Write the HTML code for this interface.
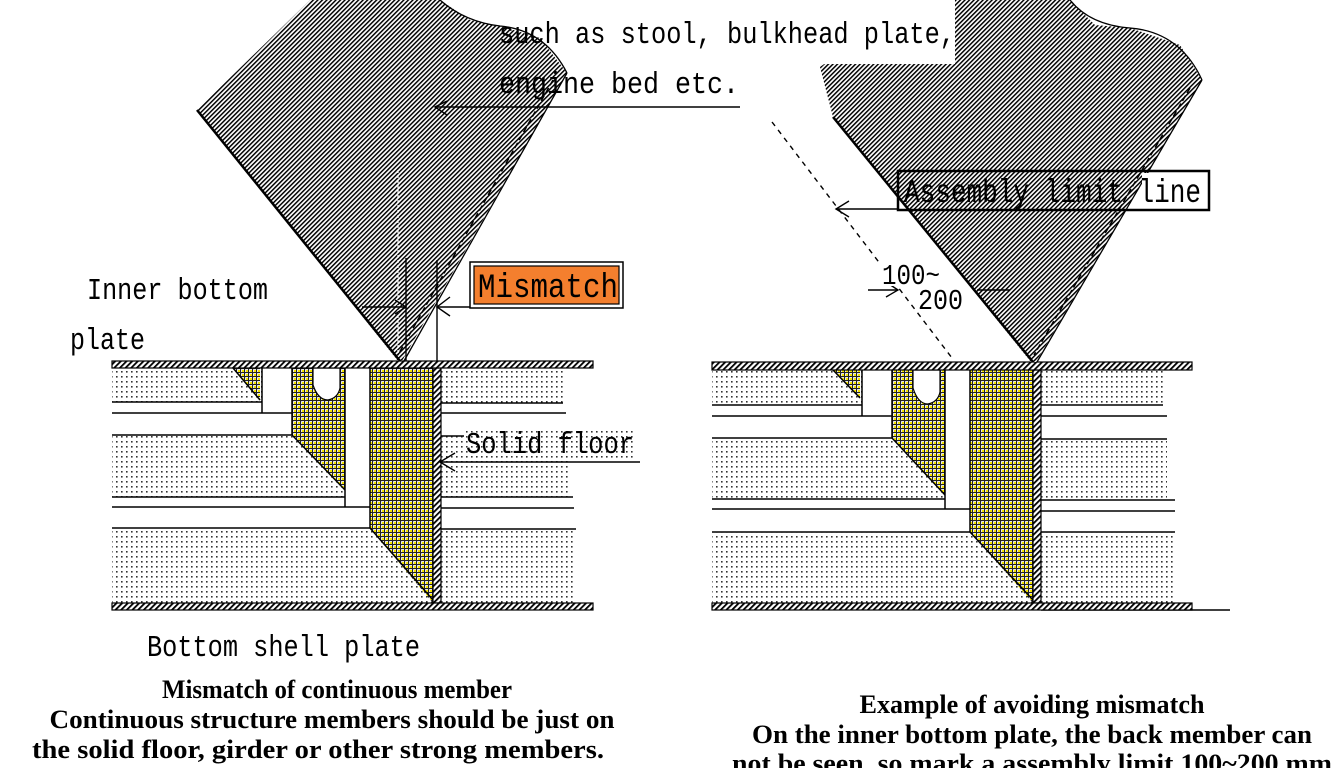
<!DOCTYPE html>
<html><head><meta charset="utf-8"><style>
html,body{margin:0;padding:0;background:#fff;}
svg{display:block;}
.m{font-family:"Liberation Mono",monospace;fill:#000;}
.s{font-family:"Liberation Serif",serif;fill:#000;font-size:26px;font-weight:bold;}
</style></head><body>
<svg width="1342" height="768" viewBox="0 0 1342 768" xmlns="http://www.w3.org/2000/svg">
<defs>
<pattern id="h" width="3.2" height="3.2" patternUnits="userSpaceOnUse" patternTransform="rotate(45)">
<rect width="3.2" height="3.2" fill="#fff"/><rect width="1.5" height="3.2" fill="#000"/></pattern>
<pattern id="hp" width="4" height="4" patternUnits="userSpaceOnUse" patternTransform="rotate(45)">
<rect width="4" height="4" fill="#fff"/><rect width="1.8" height="4" fill="#000"/></pattern>
<pattern id="d" width="5" height="5" patternUnits="userSpaceOnUse">
<rect width="5" height="5" fill="#fff"/><rect x="1" y="1" width="1.6" height="1.6" fill="#333"/></pattern>
<pattern id="y" width="4" height="4" patternUnits="userSpaceOnUse">
<rect width="4" height="4" fill="#fff"/><rect width="4" height="1.1" fill="#222"/><rect width="1.1" height="4" fill="#222"/><rect x="2" y="2" width="2" height="2" fill="#f5e500"/></pattern>
</defs>

<g>
<rect x="112" y="368" width="150" height="34" fill="url(#d)"/>
<rect x="112" y="435" width="233" height="62" fill="url(#d)"/>
<rect x="112" y="528" width="321" height="75" fill="url(#d)"/>
<rect x="441" y="368" width="125" height="35" fill="url(#d)"/>
<rect x="441" y="436" width="130" height="61" fill="url(#d)"/>
<rect x="441" y="529" width="135" height="74" fill="url(#d)"/>
<rect x="313" y="368" width="28" height="30" fill="url(#d)"/>
<polygon points="370,368 433,368 433,603 370,528" fill="url(#y)"/>
<polygon points="292,368 345,368 345,490 292,435" fill="url(#y)"/>
<polygon points="233,368 260,368 260,400" fill="url(#y)"/>
<path d="M313,368 L313,385 Q318,400 328,400 Q338,398 340,388 L340,368 Z" fill="#fff" stroke="#000" stroke-width="1.2"/>
<g stroke="#000" stroke-width="1.5" fill="none">
<line x1="112" y1="402" x2="262" y2="402"/><line x1="112" y1="413" x2="292" y2="413"/>
<line x1="112" y1="435" x2="292" y2="435"/><line x1="112" y1="497" x2="345" y2="497"/>
<line x1="112" y1="507" x2="370" y2="507"/><line x1="112" y1="528" x2="370" y2="528"/>
<line x1="441" y1="403" x2="563" y2="403"/><line x1="441" y1="413" x2="566" y2="413"/>
<line x1="441" y1="436" x2="571" y2="436"/><line x1="441" y1="497" x2="573" y2="497"/>
<line x1="441" y1="508" x2="574" y2="508"/><line x1="441" y1="529" x2="576" y2="529"/>
<line x1="262" y1="368" x2="262" y2="413"/><line x1="292" y1="368" x2="292" y2="435"/>
<line x1="345" y1="368" x2="345" y2="507"/><line x1="370" y1="368" x2="370" y2="528"/>
<line x1="292" y1="435" x2="345" y2="490"/><line x1="370" y1="528" x2="433" y2="600"/>
<line x1="233" y1="368" x2="260" y2="400"/>
</g>
<rect x="433" y="368" width="8" height="235" fill="url(#hp)" stroke="#000" stroke-width="1.2"/>
<rect x="112" y="361" width="481" height="7" fill="url(#hp)" stroke="#000" stroke-width="1.2"/>
<rect x="112" y="603" width="481" height="7" fill="url(#hp)" stroke="#000" stroke-width="1.2"/>
<polygon points="197,110 310,0 440,0 470,20 500,26 540,38 567,73 402,361 398,361" fill="url(#h)"/>
<line x1="197" y1="110" x2="400" y2="361" stroke="#000" stroke-width="2.5"/>
<line x1="567" y1="73" x2="404" y2="361" stroke="#000" stroke-width="1.3"/>
<line x1="553" y1="80" x2="398" y2="355" stroke="#000" stroke-width="1.5" stroke-dasharray="6,3"/>
<path d="M440,0 Q465,22 500,26 Q545,30 567,73" fill="none" stroke="#000" stroke-width="1.3"/>
<line x1="398" y1="170" x2="398" y2="355" stroke="#fff" stroke-width="1.2" stroke-dasharray="3,2"/>
</g>

<g>
<rect x="712" y="370" width="150" height="35" fill="url(#d)"/>
<rect x="712" y="438" width="233" height="61" fill="url(#d)"/>
<rect x="712" y="532" width="321" height="71" fill="url(#d)"/>
<rect x="1041" y="370" width="122" height="35" fill="url(#d)"/>
<rect x="1041" y="439" width="126" height="60" fill="url(#d)"/>
<rect x="1041" y="532" width="132" height="71" fill="url(#d)"/>
<rect x="913" y="370" width="28" height="30" fill="url(#d)"/>
<polygon points="970,370 1033,370 1033,603 970,532" fill="url(#y)"/>
<polygon points="892,370 945,370 945,495 892,438" fill="url(#y)"/>
<polygon points="833,370 860,370 860,398" fill="url(#y)"/>
<path d="M913,370 L913,388 Q918,404 928,404 Q938,402 940,392 L940,370 Z" fill="#fff" stroke="#000" stroke-width="1.2"/>
<g stroke="#000" stroke-width="1.5" fill="none">
<line x1="712" y1="405" x2="862" y2="405"/><line x1="712" y1="416" x2="892" y2="416"/>
<line x1="712" y1="438" x2="892" y2="438"/><line x1="712" y1="499" x2="945" y2="499"/>
<line x1="712" y1="509" x2="970" y2="509"/><line x1="712" y1="532" x2="970" y2="532"/>
<line x1="1041" y1="405" x2="1163" y2="405"/><line x1="1041" y1="416" x2="1167" y2="416"/>
<line x1="1041" y1="439" x2="1167" y2="439"/><line x1="1041" y1="500" x2="1175" y2="500"/>
<line x1="1041" y1="511" x2="1175" y2="511"/><line x1="1041" y1="532" x2="1175" y2="532"/>
<line x1="862" y1="370" x2="862" y2="416"/><line x1="892" y1="370" x2="892" y2="438"/>
<line x1="945" y1="370" x2="945" y2="509"/><line x1="970" y1="370" x2="970" y2="532"/>
<line x1="892" y1="438" x2="945" y2="495"/><line x1="970" y1="532" x2="1033" y2="600"/>
<line x1="833" y1="370" x2="860" y2="398"/>
<line x1="1041" y1="610" x2="1230" y2="610"/>
</g>
<rect x="1033" y="370" width="8" height="233" fill="url(#hp)" stroke="#000" stroke-width="1.2"/>
<rect x="712" y="362" width="480" height="8" fill="url(#hp)" stroke="#000" stroke-width="1.2"/>
<rect x="712" y="603" width="480" height="7" fill="url(#hp)" stroke="#000" stroke-width="1.2"/>
<polygon points="833,117 820,67 900,10 920,0 1070,0 1095,25 1130,28 1180,45 1202,80 1036,362 1031,362" fill="url(#h)"/>
<line x1="833" y1="117" x2="1033" y2="362" stroke="#000" stroke-width="2.5"/>
<line x1="1202" y1="80" x2="1037" y2="362" stroke="#000" stroke-width="1.3"/>
<line x1="1190" y1="88" x2="1034" y2="355" stroke="#000" stroke-width="1.5" stroke-dasharray="6,3"/>
<path d="M1070,0 Q1090,25 1130,28 Q1180,32 1202,80" fill="none" stroke="#000" stroke-width="1.3"/>
</g>
<rect x="700" y="0" width="255" height="64" fill="#fff"/>
<rect x="740" y="64" width="20" height="40" fill="#fff"/>
<text class="m" x="499" y="43" font-size="31" textLength="456" lengthAdjust="spacingAndGlyphs">such as stool, bulkhead plate,</text>
<text class="m" x="499" y="93" font-size="31" textLength="240" lengthAdjust="spacingAndGlyphs">engine bed etc.</text>

<g stroke="#000" stroke-width="1.4" fill="none">
<line x1="435" y1="107" x2="740" y2="107"/><polyline points="447,101 435,107 447,115"/>
<line x1="406" y1="258" x2="406" y2="361"/><line x1="437" y1="260" x2="437" y2="361"/>
<line x1="362" y1="307" x2="406" y2="307"/><polyline points="395,300 406,307 395,314"/>
<line x1="437" y1="307" x2="470" y2="307"/><polyline points="450,297 437,307 450,316"/>
<line x1="440" y1="462" x2="640" y2="462"/><polyline points="455,453 440,462 455,471"/>
<line x1="772" y1="122" x2="952" y2="358" stroke-dasharray="5,5"/>
<line x1="836" y1="209" x2="898" y2="209"/><polyline points="849,201 836,209 849,217"/>
<line x1="868" y1="290" x2="898" y2="290"/><polyline points="886,282 898,290 886,297"/>
<line x1="977" y1="290" x2="1010" y2="290"/>
</g>
<rect x="470" y="262" width="153" height="46" fill="#fff" stroke="#000" stroke-width="1.5"/>
<rect x="474" y="266" width="145" height="38" fill="#f47f2e" stroke="#000" stroke-width="1.2"/>
<text class="m" x="478" y="297" font-size="34" textLength="140" lengthAdjust="spacingAndGlyphs">Mismatch</text>
<rect x="464" y="428" width="170" height="30" fill="url(#d)"/>
<text class="m" x="466" y="453" font-size="31" textLength="168" lengthAdjust="spacingAndGlyphs">Solid floor</text>
<text class="m" x="87" y="299" font-size="31" textLength="181" lengthAdjust="spacingAndGlyphs">Inner bottom</text>
<text class="m" x="70" y="349" font-size="31" textLength="75" lengthAdjust="spacingAndGlyphs">plate</text>
<text class="m" x="147" y="656" font-size="31" textLength="273" lengthAdjust="spacingAndGlyphs">Bottom shell plate</text>

<rect x="898" y="171" width="311" height="39" fill="none" stroke="#000" stroke-width="2.5"/>
<rect x="1142" y="173" width="65" height="35" fill="#fff"/>
<text class="m" x="904" y="202" font-size="33" textLength="297" lengthAdjust="spacingAndGlyphs">Assembly limit line</text>
<rect x="880" y="260" width="60" height="26" fill="#fff"/>
<text class="m" x="882" y="284" font-size="29" textLength="58" lengthAdjust="spacingAndGlyphs">100~</text>
<text class="m" x="918" y="309" font-size="29" textLength="45" lengthAdjust="spacingAndGlyphs">200</text>

<text class="s" x="337" y="698" text-anchor="middle" textLength="350" lengthAdjust="spacingAndGlyphs">Mismatch of continuous member</text>
<text class="s" x="332" y="728" text-anchor="middle" textLength="565" lengthAdjust="spacingAndGlyphs">Continuous structure members should be just on</text>
<text class="s" x="318" y="758" text-anchor="middle" textLength="572" lengthAdjust="spacingAndGlyphs">the solid floor, girder or other strong members.</text>
<text class="s" x="1032" y="713" text-anchor="middle" textLength="345" lengthAdjust="spacingAndGlyphs">Example of avoiding mismatch</text>
<text class="s" x="1032" y="743" text-anchor="middle" textLength="560" lengthAdjust="spacingAndGlyphs">On the inner bottom plate, the back member can</text>
<text class="s" x="1032" y="772" text-anchor="middle" textLength="600" lengthAdjust="spacingAndGlyphs">not be seen, so mark a assembly limit 100~200 mm</text>
</svg>
</body></html>
